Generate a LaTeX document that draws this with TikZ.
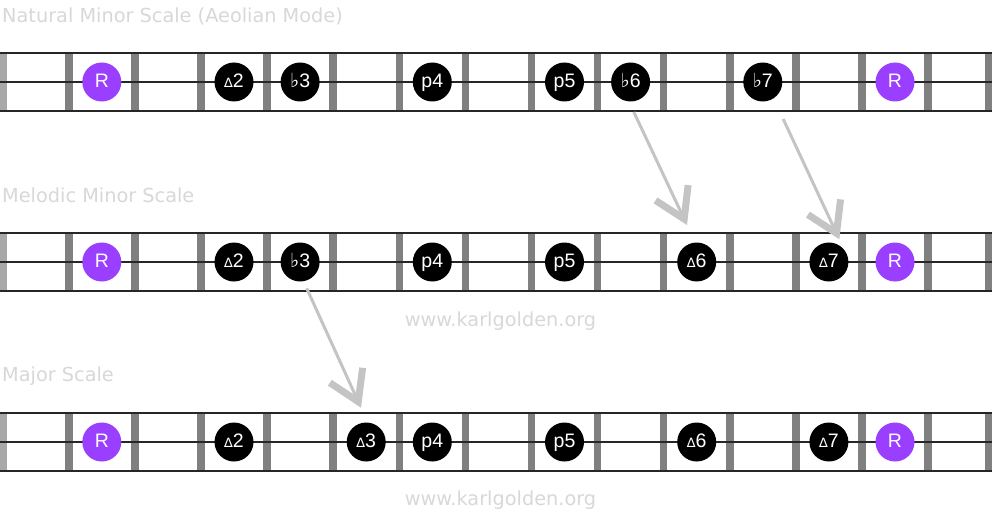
\documentclass[tikz,border=0pt]{standalone}
\usepackage{fontspec}
\setmainfont{Liberation Sans}
\newfontfamily\musfont{DejaVu Sans}
\newfontfamily\titlefont{DejaVu Sans}
\usetikzlibrary{arrows.meta,calc}
\definecolor{rootpurple}{RGB}{154,62,255}
\definecolor{fretgray}{RGB}{128,128,128}
\definecolor{nutgray}{RGB}{168,168,168}
\definecolor{captiongray}{RGB}{216,216,216}
\definecolor{arrowgray}{RGB}{196,196,196}
\newcommand{\maj}[1]{{\musfont\fontsize{13}{13}\selectfont ∆}#1}
\newcommand{\flt}[1]{{\musfont ♭}#1}
\tikzset{
  note/.style={circle, fill=black, minimum size=39pt, inner sep=0pt,
    text=white, text height=14pt, text depth=3pt,
    font=\fontsize{19.5}{19.5}\selectfont},
  root/.style={note, fill=rootpurple},
  caption/.style={anchor=west, inner sep=0pt, text=captiongray,
    font=\titlefont\fontsize{19.3}{19.3}\selectfont},
  watermark/.style={inner sep=0pt, text=captiongray,
    font=\titlefont\fontsize{19.3}{19.3}\selectfont},
  shift arrow/.style={draw=arrowgray, line width=3pt,
    -{Straight Barb[length=29pt,width=36pt,line width=7pt]}}
}
\begin{document}
\begin{tikzpicture}[x=1pt,y=-1pt]
   \useasboundingbox[fill=white] (0,0) rectangle (1000,524);
   % three fretboard strips
   \foreach \s in {82,262,442} {
      \fill[nutgray] (0,\s-29) rectangle (7,\s+29);
      \foreach \k in {1,...,14}
         \fill[fretgray] ({65+66.1*(\k-1)},\s-29) rectangle ({72.5+66.1*(\k-1)},\s+29);
      \fill[fretgray] (984.5,\s-29) rectangle (992,\s+29);
      \draw[line width=2pt, black!85] (0,\s-29) -- (992,\s-29);
      \draw[line width=2pt, black!85] (0,\s+29) -- (992,\s+29);
      \draw[line width=2pt, black!85] (0,\s) -- (992,\s);
   }
   \node[caption] (cap-nat) at (2,16) {Natural Minor Scale (Aeolian Mode)};
   \node[caption] (cap-mel) at (2,195) {Melodic Minor Scale};
   \node[caption] (cap-maj) at (2,376) {Major Scale};
   \node[watermark] (www-a) at (500.5,321) {www.karlgolden.org};
   \node[watermark] (www-b) at (500.5,500) {www.karlgolden.org};
   % natural minor
   \node[root] (nat-r1) at ({35.7+66.1*1},82) {R};
   \node[note] (nat-2) at ({35.7+66.1*3},82) {\maj{2}};
   \node[note] (nat-b3) at ({35.7+66.1*4},82) {\flt{3}};
   \node[note] (nat-4) at ({35.7+66.1*6},82) {p4};
   \node[note] (nat-5) at ({35.7+66.1*8},82) {p5};
   \node[note] (nat-b6) at ({35.7+66.1*9},82) {\flt{6}};
   \node[note] (nat-b7) at ({35.7+66.1*11},82) {\flt{7}};
   \node[root] (nat-r2) at ({35.7+66.1*13},82) {R};
   % melodic minor
   \node[root] (mel-r1) at ({35.7+66.1*1},262) {R};
   \node[note] (mel-2) at ({35.7+66.1*3},262) {\maj{2}};
   \node[note] (mel-b3) at ({35.7+66.1*4},262) {\flt{3}};
   \node[note] (mel-4) at ({35.7+66.1*6},262) {p4};
   \node[note] (mel-5) at ({35.7+66.1*8},262) {p5};
   \node[note] (mel-6) at ({35.7+66.1*10},262) {\maj{6}};
   \node[note] (mel-7) at ({35.7+66.1*12},262) {\maj{7}};
   \node[root] (mel-r2) at ({35.7+66.1*13},262) {R};
   % major
   \node[root] (maj-r1) at ({35.7+66.1*1},442) {R};
   \node[note] (maj-2) at ({35.7+66.1*3},442) {\maj{2}};
   \node[note] (maj-3) at ({35.7+66.1*5},442) {\maj{3}};
   \node[note] (maj-4) at ({35.7+66.1*6},442) {p4};
   \node[note] (maj-5) at ({35.7+66.1*8},442) {p5};
   \node[note] (maj-6) at ({35.7+66.1*10},442) {\maj{6}};
   \node[note] (maj-7) at ({35.7+66.1*12},442) {\maj{7}};
   \node[root] (maj-r2) at ({35.7+66.1*13},442) {R};
   % raised degrees
   \draw[shift arrow] ($(nat-b6)+(3.2,30)$) -- ($(mel-6)+(-9.7,-37)$);
   \draw[shift arrow] ($(nat-b7)+(20.4,37)$) -- ($(mel-7)+(10.4,-22.7)$);
   \draw[shift arrow] ($(mel-b3)+(6.6,26.3)$) -- ($(maj-3)+(-5.2,-34.3)$);
\end{tikzpicture}
\end{document}
